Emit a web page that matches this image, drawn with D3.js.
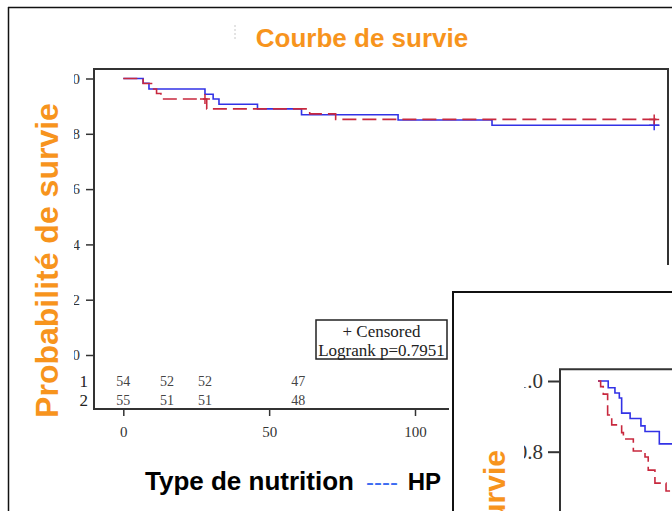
<!DOCTYPE html>
<html>
<head>
<meta charset="utf-8">
<script src="https://cdn.jsdelivr.net/npm/d3@7"></script>
<style>
  body { margin: 0; background: #ffffff; }
  svg { display: block; }
</style>
</head>
<body>
<svg id="survival-chart" width="672" height="511"></svg>
<script>
// texts of the slide
const title_text = "Courbe de survie";
const y_label_text = "Probabilité de survie";
const legend_lines = ["+ Censored", "Logrank p=0.7951"];

// main kaplan-meier curves (time, survival)
const main_blue_times = [0, 6.8, 8.8, 28.0, 30.8, 32.8, 46.0, 61.1, 94.2, 126.4, 183.8];
const main_blue_values = [1.0, 0.983, 0.962, 0.943, 0.926, 0.907, 0.890, 0.869, 0.850, 0.831, 0.831];
const main_red_times = [0, 6.8, 10.1, 11.4, 12.9, 28.6, 63.9, 72.8, 183.8];
const main_red_values = [1.0, 0.982, 0.962, 0.946, 0.926, 0.890, 0.872, 0.852, 0.852];

// censored marks
const main_blue_censor_times = [182];
const main_blue_censor_values = [0.831];
const main_red_censor_times = [28, 182];
const main_red_censor_values = [0.926, 0.852];

// number at risk table
const risk_rows = ["1", "2"];
const risk_times = [0, 15, 28, 60];
const risk_group1 = [54, 52, 52, 47];
const risk_group2 = [55, 51, 51, 48];

// axis ticks
const x_ticks = [0, 50, 100];
const y_ticks = [0, 0.2, 0.4, 0.6, 0.8, 1.0];

// second chart, partly hidden at the bottom right
const inset_blue_times = [0, 3.5, 5.8, 7.3, 8.1, 11.0, 14.7, 16.1, 21.0, 30];
const inset_blue_values = [1.0, 0.981, 0.966, 0.952, 0.909, 0.894, 0.873, 0.857, 0.822, 0.822];
const inset_red_times = [0, 0.9, 1.8, 3.3, 4.7, 8.1, 8.7, 12.1, 16.1, 17.2, 19.5, 23.3, 30];
const inset_red_values = [1.0, 0.984, 0.963, 0.904, 0.876, 0.854, 0.836, 0.802, 0.785, 0.748, 0.711, 0.689, 0.689];
const inset_y_ticks = [0.8, 1.0];

// colors
let orange = "#f7941d";
let curve_blue = "#3232e6";
let curve_red = "#c8283e";
let legend_blue = "#3d6cf2";
let frame_gray = "#333333";

const serif = "'Liberation Serif', 'Times New Roman', serif";
const sans = "'Liberation Sans', Arial, sans-serif";

let svg = d3.select("#survival-chart");

// slide border (top and left edges visible)
svg.append("line").attr("x1", 8).attr("y1", 7.5).attr("x2", 672).attr("y2", 7.5)
    .attr("stroke", "#111").attr("stroke-width", 1.5);
svg.append("line").attr("x1", 8.5).attr("y1", 7).attr("x2", 8.5).attr("y2", 511)
    .attr("stroke", "#111").attr("stroke-width", 1.5);

// small faint mark left of the title
svg.append("line").attr("x1", 235).attr("y1", 25).attr("x2", 235).attr("y2", 40)
    .attr("stroke", "#c8c8c8").attr("stroke-width", 1).attr("stroke-dasharray", "2,2");

// title
svg.append("text")
    .attr("x", 362).attr("y", 47)
    .attr("text-anchor", "middle")
    .attr("font-family", sans).attr("font-weight", "bold").attr("font-size", 26)
    .attr("fill", orange)
    .text(title_text);

// ---------------- main plot ----------------
const xScale = d3.scaleLinear().domain([0, 100]).range([123.3, 415]);
const yScale = d3.scaleLinear().domain([0, 1]).range([355, 78.5]);

// clip so the left part of the y tick labels is cut like on the slide
// (clip rect is in the coordinates of the wrapping group, which is not translated)
svg.append("clipPath").attr("id", "clip-main-labels")
    .append("rect").attr("x", 74).attr("y", 0).attr("width", 600).attr("height", 511);

const yAxis = svg.append("g")
    .attr("clip-path", "url(#clip-main-labels)")
    .append("g")
    .attr("transform", "translate(94,0)")
    .call(d3.axisLeft(yScale).tickValues(y_ticks).tickFormat(d3.format(".1f")).tickSize(8).tickPadding(6));
yAxis.select(".domain").remove();

const xAxis = svg.append("g")
    .attr("transform", "translate(0,409)")
    .call(d3.axisBottom(xScale).tickValues(x_ticks).tickSize(7).tickPadding(10));
xAxis.select(".domain").remove();

[yAxis, xAxis].forEach(function(ax) {
    ax.selectAll("line").attr("stroke", frame_gray).attr("stroke-width", 1.5);
    ax.selectAll("text").attr("font-family", serif).attr("font-size", 15).attr("fill", "#333");
});

// plot frame
svg.append("rect")
    .attr("x", 94).attr("y", 69).attr("width", 574).attr("height", 340)
    .attr("fill", "none").attr("stroke", frame_gray).attr("stroke-width", 2);

// step curves
const step_line = d3.line()
    .x(d => xScale(d[0]))
    .y(d => yScale(d[1]))
    .curve(d3.curveStepAfter);

svg.append("path")
    .attr("d", step_line(d3.zip(main_blue_times, main_blue_values)))
    .attr("fill", "none").attr("stroke", curve_blue).attr("stroke-width", 1.6);

svg.append("path")
    .attr("d", step_line(d3.zip(main_red_times, main_red_values)))
    .attr("fill", "none").attr("stroke", curve_red).attr("stroke-width", 1.6)
    .attr("stroke-dasharray", "14,6");

// censored "+" marks
function draw_censor(group, times, values, scaleX, scaleY, color, size) {
    group.selectAll(null)
        .data(d3.zip(times, values))
        .join("path")
        .attr("d", d => {
            let cx = scaleX(d[0]), cy = scaleY(d[1]);
            return `M${cx - size},${cy}H${cx + size}M${cx},${cy - size}V${cy + size}`;
        })
        .attr("stroke", color).attr("stroke-width", 1.5).attr("fill", "none");
}
draw_censor(svg, main_blue_censor_times, main_blue_censor_values, xScale, yScale, curve_blue, 5);
draw_censor(svg, main_red_censor_times, main_red_censor_values, xScale, yScale, curve_red, 5);

// legend box
svg.append("rect")
    .attr("x", 316).attr("y", 320).attr("width", 131).attr("height", 39)
    .attr("fill", "#fff").attr("stroke", "#222").attr("stroke-width", 1.5);
svg.selectAll(".legend-line")
    .data(legend_lines)
    .join("text")
    .attr("class", "legend-line")
    .attr("x", 381.5)
    .attr("y", (d, i) => 337 + i * 19)
    .attr("text-anchor", "middle")
    .attr("font-family", serif).attr("font-size", 17).attr("fill", "#222")
    .text(d => d);

// number at risk rows
const risk_values = [risk_group1, risk_group2];
risk_rows.forEach(function(row, i) {
    let y = 381 + i * 19;
    svg.append("text")
        .attr("x", 88).attr("y", y).attr("dy", "0.35em")
        .attr("text-anchor", "end")
        .attr("font-family", serif).attr("font-size", 17).attr("fill", "#222")
        .text(row);
    svg.selectAll(null)
        .data(d3.zip(risk_times, risk_values[i]))
        .join("text")
        .attr("x", d => xScale(d[0]))
        .attr("y", y).attr("dy", "0.35em")
        .attr("text-anchor", "middle")
        .attr("font-family", serif).attr("font-size", 14).attr("fill", "#444")
        .text(d => d[1]);
});

// y axis title
svg.append("text")
    .attr("transform", "translate(58,260.5) rotate(-90)")
    .attr("text-anchor", "middle")
    .attr("font-family", sans).attr("font-weight", "bold").attr("font-size", 32)
    .attr("fill", orange)
    .text(y_label_text);

// bottom caption
const caption = svg.append("g")
    .attr("font-family", sans).attr("font-weight", "bold").attr("font-size", 26);
caption.append("text").attr("x", 145).attr("y", 490).attr("fill", "#000").text("Type de nutrition");
caption.append("text").attr("x", 366).attr("y", 490).attr("fill", legend_blue)
    .attr("font-weight", "normal").attr("font-size", 24).text("----");
caption.append("text").attr("x", 441).attr("y", 490).attr("text-anchor", "end")
    .attr("font-size", 24).attr("fill", "#000").text("HP");

// ---------------- second chart (overlapping) ----------------
svg.append("rect")
    .attr("x", 449).attr("y", 265).attr("width", 230).attr("height", 250)
    .attr("fill", "#fff");
svg.append("rect")
    .attr("x", 453).attr("y", 292).attr("width", 240).attr("height", 240)
    .attr("fill", "#fff").attr("stroke", "#111").attr("stroke-width", 2);

const insetX = d3.scaleLinear().domain([0, 100]).range([598, 890]);
const insetY = d3.scaleLinear().domain([0, 1]).range([734.5, 381]);

svg.append("clipPath").attr("id", "clip-inset-labels")
    .append("rect").attr("x", 524).attr("y", 292).attr("width", 200).attr("height", 220);

const insetAxis = svg.append("g")
    .attr("clip-path", "url(#clip-inset-labels)")
    .append("g")
    .attr("transform", "translate(560,0)")
    .call(d3.axisLeft(insetY).tickValues(inset_y_ticks).tickFormat(d3.format(".1f")).tickSize(12).tickPadding(5));
insetAxis.select(".domain").remove();
insetAxis.selectAll("line").attr("stroke", frame_gray).attr("stroke-width", 2);
insetAxis.selectAll("text").attr("font-family", serif).attr("font-size", 21).attr("fill", "#333");

// inset plot frame (left and top edges)
svg.append("path")
    .attr("d", "M560,511V369.3H672")
    .attr("fill", "none").attr("stroke", frame_gray).attr("stroke-width", 2);

const inset_step_line = d3.line()
    .x(d => insetX(d[0]))
    .y(d => insetY(d[1]))
    .curve(d3.curveStepAfter);

svg.append("path")
    .attr("d", inset_step_line(d3.zip(inset_blue_times, inset_blue_values)))
    .attr("fill", "none").attr("stroke", curve_blue).attr("stroke-width", 1.6);
svg.append("path")
    .attr("d", inset_step_line(d3.zip(inset_red_times, inset_red_values)))
    .attr("fill", "none").attr("stroke", curve_red).attr("stroke-width", 1.6)
    .attr("stroke-dasharray", "12,5");

// inset y axis title, its start runs off the bottom of the picture
svg.append("text")
    .attr("transform", "translate(505,450) rotate(-90)")
    .attr("text-anchor", "end")
    .attr("font-family", sans).attr("font-weight", "bold").attr("font-size", 30)
    .attr("fill", orange)
    .text(y_label_text);
</script>
</body>
</html>
